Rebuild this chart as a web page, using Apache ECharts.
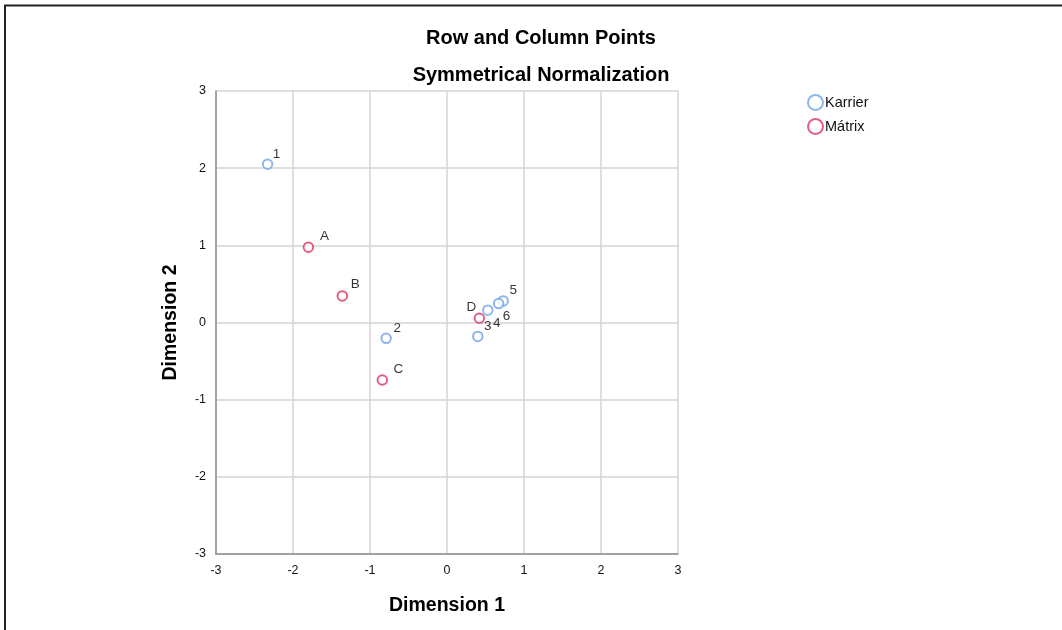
<!DOCTYPE html>
<html>
<head>
<meta charset="utf-8">
<script src="https://cdn.jsdelivr.net/npm/echarts@6/dist/echarts.min.js"></script>
<style>
html,body{margin:0;padding:0;background:#fff;}
#c{width:1062px;height:630px;}
</style>
</head>
<body>
<div id="c"></div>
<script>
// ---- data ----
const karrierLabels = ['1', '2', '3', '4', '5', '6'];
const karrierDim1 = [-2.33, -0.79, 0.40, 0.53, 0.73, 0.67];
const karrierDim2 = [2.05, -0.205, -0.18, 0.16, 0.28, 0.245];

const matrixLabels = ['A', 'B', 'C', 'D'];
const matrixDim1 = [-1.80, -1.36, -0.84, 0.42];
const matrixDim2 = [0.975, 0.345, -0.745, 0.055];

const seriesNames = ['Karrier', 'Mátrix'];
const axisTicks = [-3, -2, -1, 0, 1, 2, 3];
const titleLines = ['Row and Column Points', 'Symmetrical Normalization'];
const axisNames = ['Dimension 1', 'Dimension 2'];

// ---- styling (label offsets in pixels relative to the point) ----
const labelOffsets = {
  '1': [9, -10], '2': [11, -10], '3': [10, -10], '4': [9, 13], '5': [10, -11], '6': [8, 13],
  'A': [16, -11], 'B': [13, -12], 'C': [16, -11], 'D': [-8, -11]
};
const colors = ['#72a3ea', '#dc3660'];
const FONT = '"Liberation Sans", Arial, sans-serif';

function build(labels, xs, ys) {
  return labels.map((l, i) => ({
    value: [xs[i], ys[i]],
    name: l,
    label: { offset: labelOffsets[l] }
  }));
}

const chart = echarts.init(document.getElementById('c'));
const axisCommon = {
  type: 'value', min: axisTicks[0], max: axisTicks[axisTicks.length - 1], interval: 1,
  axisLine: { show: true, onZero: false, lineStyle: { color: '#8f8f8f', width: 1.5 } },
  axisTick: { show: false },
  splitLine: { show: true, lineStyle: { color: '#d4d4d4', width: 1.5 } },
  axisLabel: { color: '#111', fontSize: 12.5, fontFamily: FONT },
  nameLocation: 'middle',
  nameTextStyle: { color: '#000', fontSize: 19.5, fontWeight: 'bold', fontFamily: FONT }
};

const labelStyle = {
  show: true, position: 'inside', formatter: '{b}', color: '#000', fontSize: 13.5, fontFamily: FONT,
  align: 'center', verticalAlign: 'middle'
};

chart.setOption({
  animation: false,
  backgroundColor: '#fff',
  grid: { left: 216, top: 91, width: 462, height: 463, containLabel: false },
  xAxis: Object.assign({}, axisCommon, {
    name: axisNames[0], nameGap: 42,
    axisLabel: Object.assign({}, axisCommon.axisLabel, { margin: 10 })
  }),
  yAxis: Object.assign({}, axisCommon, {
    name: axisNames[1], nameGap: 35,
    axisLabel: Object.assign({}, axisCommon.axisLabel, { margin: 10 })
  }),
  legend: {
    left: 807, top: 94, padding: 0, orient: 'vertical', itemWidth: 15, itemHeight: 15, itemGap: 7,
    icon: 'emptyCircle',
    textStyle: { color: '#111', fontSize: 14.5, fontFamily: FONT, padding: [0, 0, 0, -3] },
    data: seriesNames
  },
  series: [
    {
      name: seriesNames[0], type: 'scatter', symbol: 'emptyCircle', symbolSize: 9.5,
      itemStyle: { color: colors[0], borderWidth: 1.7 },
      label: labelStyle,
      data: build(karrierLabels, karrierDim1, karrierDim2)
    },
    {
      name: seriesNames[1], type: 'scatter', symbol: 'emptyCircle', symbolSize: 9.5,
      itemStyle: { color: colors[1], borderWidth: 1.7 },
      label: labelStyle,
      data: build(matrixLabels, matrixDim1, matrixDim2)
    }
  ],
  graphic: [
    { type: 'text', x: 541, y: 38, style: { text: titleLines[0], fill: '#000', font: 'bold 20px ' + FONT, textAlign: 'center', textVerticalAlign: 'middle' } },
    { type: 'text', x: 541, y: 75, style: { text: titleLines[1], fill: '#000', font: 'bold 20px ' + FONT, textAlign: 'center', textVerticalAlign: 'middle' } },
    { type: 'line', shape: { x1: 4, y1: 5.5, x2: 1062, y2: 5.5 }, style: { stroke: '#222', lineWidth: 2 } },
    { type: 'line', shape: { x1: 5, y1: 5, x2: 5, y2: 630 }, style: { stroke: '#222', lineWidth: 2 } }
  ]
});
</script>
</body>
</html>
